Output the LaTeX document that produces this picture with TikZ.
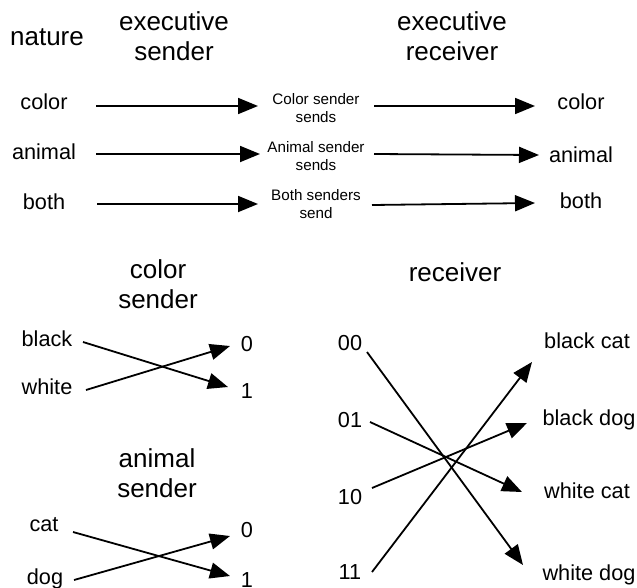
\documentclass[tikz,border=0pt]{standalone}
\usepackage{fontspec}
\setmainfont{Liberation Sans}
\usetikzlibrary{arrows.meta}
\begin{document}
\begin{tikzpicture}[x=1pt,y=-1pt,
  hdr/.style={align=center,font=\fontsize{26}{30}\selectfont,inner sep=0pt},
  lbl/.style={font=\fontsize{21.7}{25}\selectfont,inner sep=0pt},
  sml/.style={align=center,font=\fontsize{15.2}{18}\selectfont,inner sep=0pt},
  arr/.style={line width=1.8pt,-{Triangle[length=20pt,width=16pt]}}]
\useasboundingbox (0,0) rectangle (637,587);

% ---------- top section ----------
\node[hdr] (nature) at (47,37) {nature};
\node[hdr] (esend) at (174,36) {executive\\sender};
\node[hdr] (erecv) at (452,36) {executive\\receiver};

\node[lbl] (ncolor)  at (44,102) {color};
\node[lbl] (nanimal) at (44,152) {animal};
\node[lbl] (nboth)   at (44,202) {both};

\node[sml] (scolor)  at (316,108) {Color sender\\sends};
\node[sml] (sanimal) at (316,156) {Animal sender\\sends};
\node[sml] (sboth)   at (316,204) {Both senders\\send};

\node[lbl] (rcolor)  at (581,102) {color};
\node[lbl] (ranimal) at (581,155) {animal};
\node[lbl] (rboth)   at (581,201) {both};

\coordinate (a1s) at (96,106);  \coordinate (a1e) at (258,106);
\coordinate (a2s) at (96,154);  \coordinate (a2e) at (260,154);
\coordinate (a3s) at (97,204);  \coordinate (a3e) at (258,204);
\coordinate (b1s) at (374,106); \coordinate (b1e) at (535,106);
\coordinate (b2s) at (374,154); \coordinate (b2e) at (539,155);
\coordinate (b3s) at (372,205); \coordinate (b3e) at (535,203);

\draw[arr] (a1s) -- (a1e);
\draw[arr] (a2s) -- (a2e);
\draw[arr] (a3s) -- (a3e);
\draw[arr] (b1s) -- (b1e);
\draw[arr] (b2s) -- (b2e);
\draw[arr] (b3s) -- (b3e);

% ---------- color sender ----------
\node[hdr] (csh) at (158,284) {color\\sender};
\node[lbl] (black) at (47,339) {black};
\node[lbl] (white) at (47,387) {white};
\node[lbl] (c0) at (247,344) {0};
\node[lbl] (c1) at (247,391) {1};
\coordinate (cb1) at (83,342);  \coordinate (cb2) at (228,387);
\coordinate (cw1) at (86,390);  \coordinate (cw2) at (230,346);
\draw[arr] (cb1) -- (cb2);
\draw[arr] (cw1) -- (cw2);

% ---------- animal sender ----------
\node[hdr] (ash) at (157,473) {animal\\sender};
\node[lbl] (cat) at (44,525) {cat};
\node[lbl] (dog) at (45,579) {dog};
\node[lbl] (d0) at (247,530) {0};
\node[lbl] (d1) at (247,580) {1};
\coordinate (ac1) at (73,532);  \coordinate (ac2) at (230,576);
\coordinate (ad1) at (74,580);  \coordinate (ad2) at (230,536);
\draw[arr] (ac1) -- (ac2);
\draw[arr] (ad1) -- (ad2);

% ---------- receiver ----------
\node[hdr] (rh) at (455,272) {receiver};
\node[lbl] (m00) at (350,343) {00};
\node[lbl] (m01) at (350,420) {01};
\node[lbl] (m10) at (350,497) {10};
\node[lbl] (m11) at (350,572) {11};
\node[lbl] (bc) at (587,341) {black cat};
\node[lbl] (bd) at (589,420) {black dog};
\node[lbl] (wc) at (587,491) {white cat};
\node[lbl] (wd) at (589,575) {white dog};
\coordinate (r00s) at (367,352); \coordinate (r00e) at (523,565);
\coordinate (r01s) at (370,422); \coordinate (r01e) at (522,492);
\coordinate (r10s) at (372,488); \coordinate (r10e) at (527,423);
\coordinate (r11s) at (372,572); \coordinate (r11e) at (532,362);
\draw[arr] (r00s) -- (r00e);
\draw[arr] (r01s) -- (r01e);
\draw[arr] (r10s) -- (r10e);
\draw[arr] (r11s) -- (r11e);
\end{tikzpicture}
\end{document}
